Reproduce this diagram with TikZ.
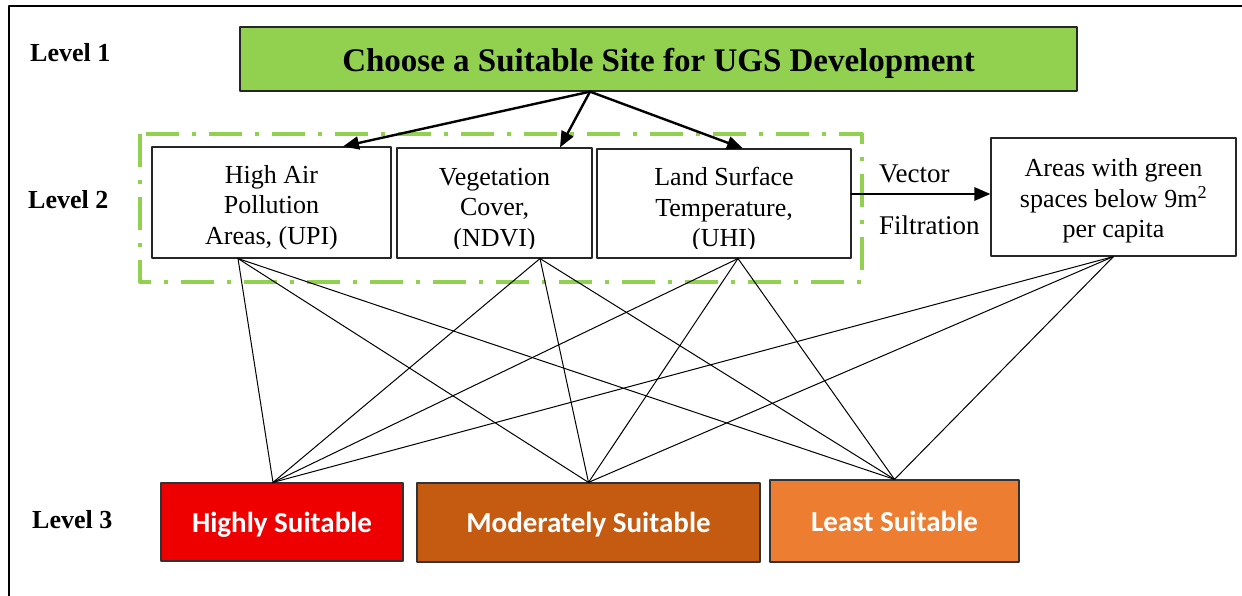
\documentclass[tikz,border=0pt]{standalone}
\usepackage{fontspec}
\setmainfont{Liberation Serif}
\newfontfamily\calibrifont{Carlito}
\usetikzlibrary{positioning,calc,arrows.meta}

\definecolor{ugsgreen}{HTML}{92D050}
\definecolor{suithigh}{HTML}{EE0000}
\definecolor{suitmod}{HTML}{C55A11}
\definecolor{suitleast}{HTML}{ED7D31}

\begin{document}
\begin{tikzpicture}[x=1pt, y=-1pt, line cap=round, line join=round]
	\useasboundingbox (0,0) rectangle (1242,596);
	
	\tikzset{
		factor/.style={draw=black!85, line width=1.1pt, fill=white, inner sep=0pt},
		factortext/.style={align=center, inner sep=0pt, font=\fontsize{26}{30.5}\selectfont},
		suit/.style={draw=black!80, line width=1.2pt, inner sep=0pt, text=white,
			text height=20pt, text depth=0pt, font=\calibrifont\bfseries\fontsize{29}{32}\selectfont},
		levelname/.style={anchor=base west, inner sep=0pt, font=\bfseries\fontsize{26}{30}\selectfont},
		pick/.style={-{Triangle[length=16pt, width=13pt]}, line width=2.4pt},
		fan/.style={line width=1pt}
	}
	
	% ---- outer frame ----
	\draw[line width=2.4pt] (1242,6) -- (9,6) -- (9,596);
	
	% ---- level names ----
	\node[levelname] (lv1) at (30,62)  {Level 1};
	\node[levelname] (lv2) at (28,208) {Level 2};
	\node[levelname] (lv3) at (32,528) {Level 3};
	
	% ---- level 1: goal ----
	\node[draw=black!85, line width=1.3pt, fill=ugsgreen, minimum width=837, minimum height=64,
		inner sep=0pt, text height=30pt, text depth=4pt, font=\bfseries\fontsize{33}{38}\selectfont]
		(goal) at (658.5,59) {Choose a Suitable Site for UGS Development};
	
	% ---- level 2: criteria (green dash-dot group) ----
	\draw[ugsgreen, line width=4pt, line cap=butt, dash pattern=on 33pt off 13pt on 4pt off 13pt]
		(140,134) rectangle (862,282);
	
	\node[factor, minimum width=239, minimum height=111] (upi)  at (271.5,202.5) {};
	\node[factor, minimum width=195, minimum height=110] (ndvi) at (494.5,203) {};
	\node[factor, minimum width=254, minimum height=109] (lst)  at (724,203.5) {};
	\node[factor, minimum width=245, minimum height=118] (area) at (1113.5,197) {};
	
	\node[factortext] (upit) at ([yshift=-5pt]upi.center) {High Air\\Pollution\\Areas, (UPI)};
	\begin{scope}
		% last lines run past the bottom edge
		\clip ([yshift=10.5pt]ndvi.south west) rectangle (lst.north east);
		\node[factortext] (ndvit) at ([yshift=-7pt]ndvi.center) {Vegetation\\Cover,\\(NDVI)};
		\node[factortext] (lstt)  at ([yshift=-6.5pt]lst.center) {Land Surface\\Temperature,\\(UHI)};
	\end{scope}
	\node[factortext] (areat) at ([yshift=-4pt]area.center) {Areas with green\\spaces below 9m\textsuperscript{2}\\per capita};
	
	% ---- level 3: suitability classes ----
	\node[suit, fill=suithigh,  minimum width=242, minimum height=78] (high)  at (282,522)     {Highly Suitable};
	\node[suit, fill=suitmod,   minimum width=343, minimum height=79] (mod)   at (588.5,522.5) {Moderately Suitable};
	\node[suit, fill=suitleast, minimum width=249, minimum height=82] (least) at (894.5,521)   {Least Suitable};
	
	% ---- arrows from the goal ----
	\coordinate (goalB) at ([xshift=-68.5pt]goal.south);
	\draw[pick] (goalB) -- ([xshift=71.5pt]upi.north);
	\draw[pick] (goalB) -- ([xshift=65.5pt]ndvi.north);
	\draw[pick] (goalB) -- ([xshift=19pt]lst.north);
	
	% ---- vector filtration ----
	\coordinate (vec) at ([yshift=9.5pt]lst.east);
	\draw[pick, line width=2.8pt] (vec) -- (vec -| area.west);
	\node[anchor=base west, inner sep=0pt, font=\fontsize{27}{30}\selectfont] (vlab) at (879,183) {Vector};
	\node[anchor=base west, inner sep=0pt, font=\fontsize{27}{30}\selectfont] (flab) at (879,235) {Filtration};
	
	% ---- every criterion to every class ----
	\coordinate (upiB)   at ([xshift=-33.5pt]upi.south);
	\coordinate (ndviB)  at ([xshift=45.5pt]ndvi.south);
	\coordinate (lstB)   at ([xshift=14pt]lst.south);
	\coordinate (areaB)  at (area.south);
	\coordinate (highT)  at ([xshift=-9pt]high.north);
	\coordinate (modT)   at (mod.north);
	\coordinate (leastT) at (least.north);
	\foreach \s in {upiB,ndviB,lstB,areaB}{
		\foreach \t in {highT,modT,leastT}{
			\draw[fan] (\s) -- (\t);
		}
	}
\end{tikzpicture}
\end{document}
